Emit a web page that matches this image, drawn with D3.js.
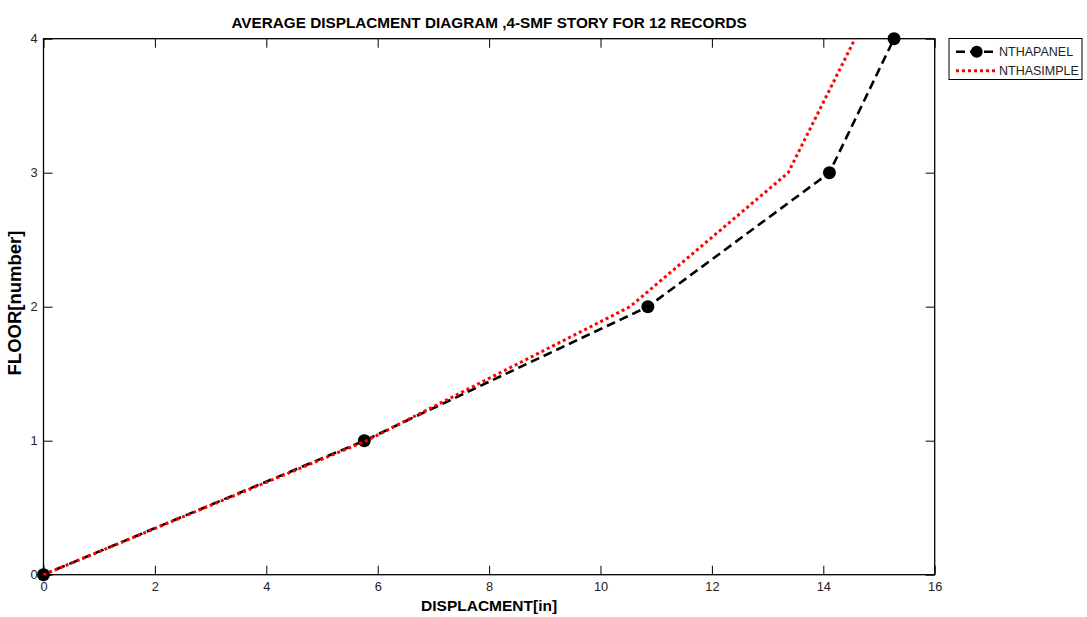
<!DOCTYPE html>
<html><head><meta charset="utf-8">
<script src="https://cdn.jsdelivr.net/npm/d3@7"></script>
<style>body{margin:0;background:#fff}svg{display:block}text{font-family:"Liberation Sans",Arial,sans-serif}</style>
</head><body>
<script>
const floors = [0, 1, 2, 3, 4];
const panelDisp = [0, 5.76, 10.85, 14.11, 15.27];
const simpleDisp = [0, 5.8, 10.53, 13.37, 14.57];
const xTicks = [0, 2, 4, 6, 8, 10, 12, 14, 16];
const yTicks = [0, 1, 2, 3, 4];
const seriesNames = ["NTHAPANEL", "NTHASIMPLE"];
const titleText = "AVERAGE DISPLACMENT DIAGRAM ,4-SMF STORY FOR 12 RECORDS";
const xLabel = "DISPLACMENT[in]";
const yLabel = "FLOOR[number]";

const W = 1087, H = 617;
const L = 43.5, R = 934.7, T = 38.7, B = 574.7;
const svg = d3.select("body").append("svg").attr("width", W).attr("height", H);
const x = d3.scaleLinear().domain([0, 16]).range([L, R]);
const y = d3.scaleLinear().domain([0, 4]).range([B, T]);

const tl = 9;
const gb = svg.append("g").attr("transform", `translate(0,${B})`)
  .call(d3.axisBottom(x).tickValues(xTicks).tickSize(-tl).tickPadding(7).tickFormat(d3.format("d")));
const gt = svg.append("g").attr("transform", `translate(0,${T})`)
  .call(d3.axisTop(x).tickValues(xTicks).tickSize(-tl).tickFormat(""));
const gl = svg.append("g").attr("transform", `translate(${L},0)`)
  .call(d3.axisLeft(y).tickValues(yTicks).tickSize(-tl).tickPadding(6).tickFormat(d3.format("d")));
const gr = svg.append("g").attr("transform", `translate(${R},0)`)
  .call(d3.axisRight(y).tickValues(yTicks).tickSize(-tl).tickFormat(""));
[gb, gt, gl, gr].forEach(g => {
  g.select(".domain").remove();
  g.attr("font-family", null).attr("font-size", null);
  g.selectAll(".tick line").attr("stroke", "#000").attr("stroke-width", 1);
  g.selectAll(".tick text").style("font-size", "12.8px").attr("fill", "#222");
});
svg.append("rect").attr("x", L).attr("y", T).attr("width", R - L).attr("height", B - T)
  .attr("fill", "none").attr("stroke", "#000").attr("stroke-width", 1.3);

const line = d3.line();
const panelPts = floors.map((f, i) => [x(panelDisp[i]), y(f)]);
const simplePts = floors.map((f, i) => [x(simpleDisp[i]), y(f)]);

svg.append("path").attr("d", line(panelPts)).attr("fill", "none").attr("stroke", "#000")
  .attr("stroke-width", 2.6).attr("stroke-dasharray", "9,5");
svg.selectAll("circle.p").data(panelPts).enter().append("circle")
  .attr("cx", d => d[0]).attr("cy", d => d[1]).attr("r", 6.5).attr("fill", "#000");
svg.append("path").attr("d", line(simplePts)).attr("fill", "none").attr("stroke", "#f00")
  .attr("stroke-width", 3).attr("stroke-dasharray", "3,3");

svg.append("text").attr("x", (L + R) / 2).attr("y", 27.7).attr("text-anchor", "middle")
  .attr("font-size", 15.3).attr("font-weight", "bold").text(titleText);
svg.append("text").attr("x", (L + R) / 2).attr("y", 611).attr("text-anchor", "middle")
  .attr("font-size", 15.5).attr("font-weight", "bold").text(xLabel);
svg.append("text").attr("transform", `translate(21,303) rotate(-90)`).attr("text-anchor", "middle")
  .attr("font-size", 18.5).attr("font-weight", "bold").text(yLabel);

const lg = svg.append("g");
lg.append("rect").attr("x", 949).attr("y", 38.5).attr("width", 133).attr("height", 41)
  .attr("fill", "#fff").attr("stroke", "#000").attr("stroke-width", 1);
lg.append("line").attr("x1", 956).attr("x2", 997).attr("y1", 51.7).attr("y2", 51.7)
  .attr("stroke", "#000").attr("stroke-width", 2.6).attr("stroke-dasharray", "9,5");
lg.append("circle").attr("cx", 976.7).attr("cy", 51.7).attr("r", 6).attr("fill", "#000");
lg.append("line").attr("x1", 956).attr("x2", 997).attr("y1", 70.7).attr("y2", 70.7)
  .attr("stroke", "#f00").attr("stroke-width", 3).attr("stroke-dasharray", "3,3");
lg.selectAll("text.l").data(seriesNames).enter().append("text")
  .attr("x", 999).attr("y", (d, i) => 56 + i * 19).attr("font-size", 12.5).attr("fill", "#222").text(d => d);
</script>
</body></html>
